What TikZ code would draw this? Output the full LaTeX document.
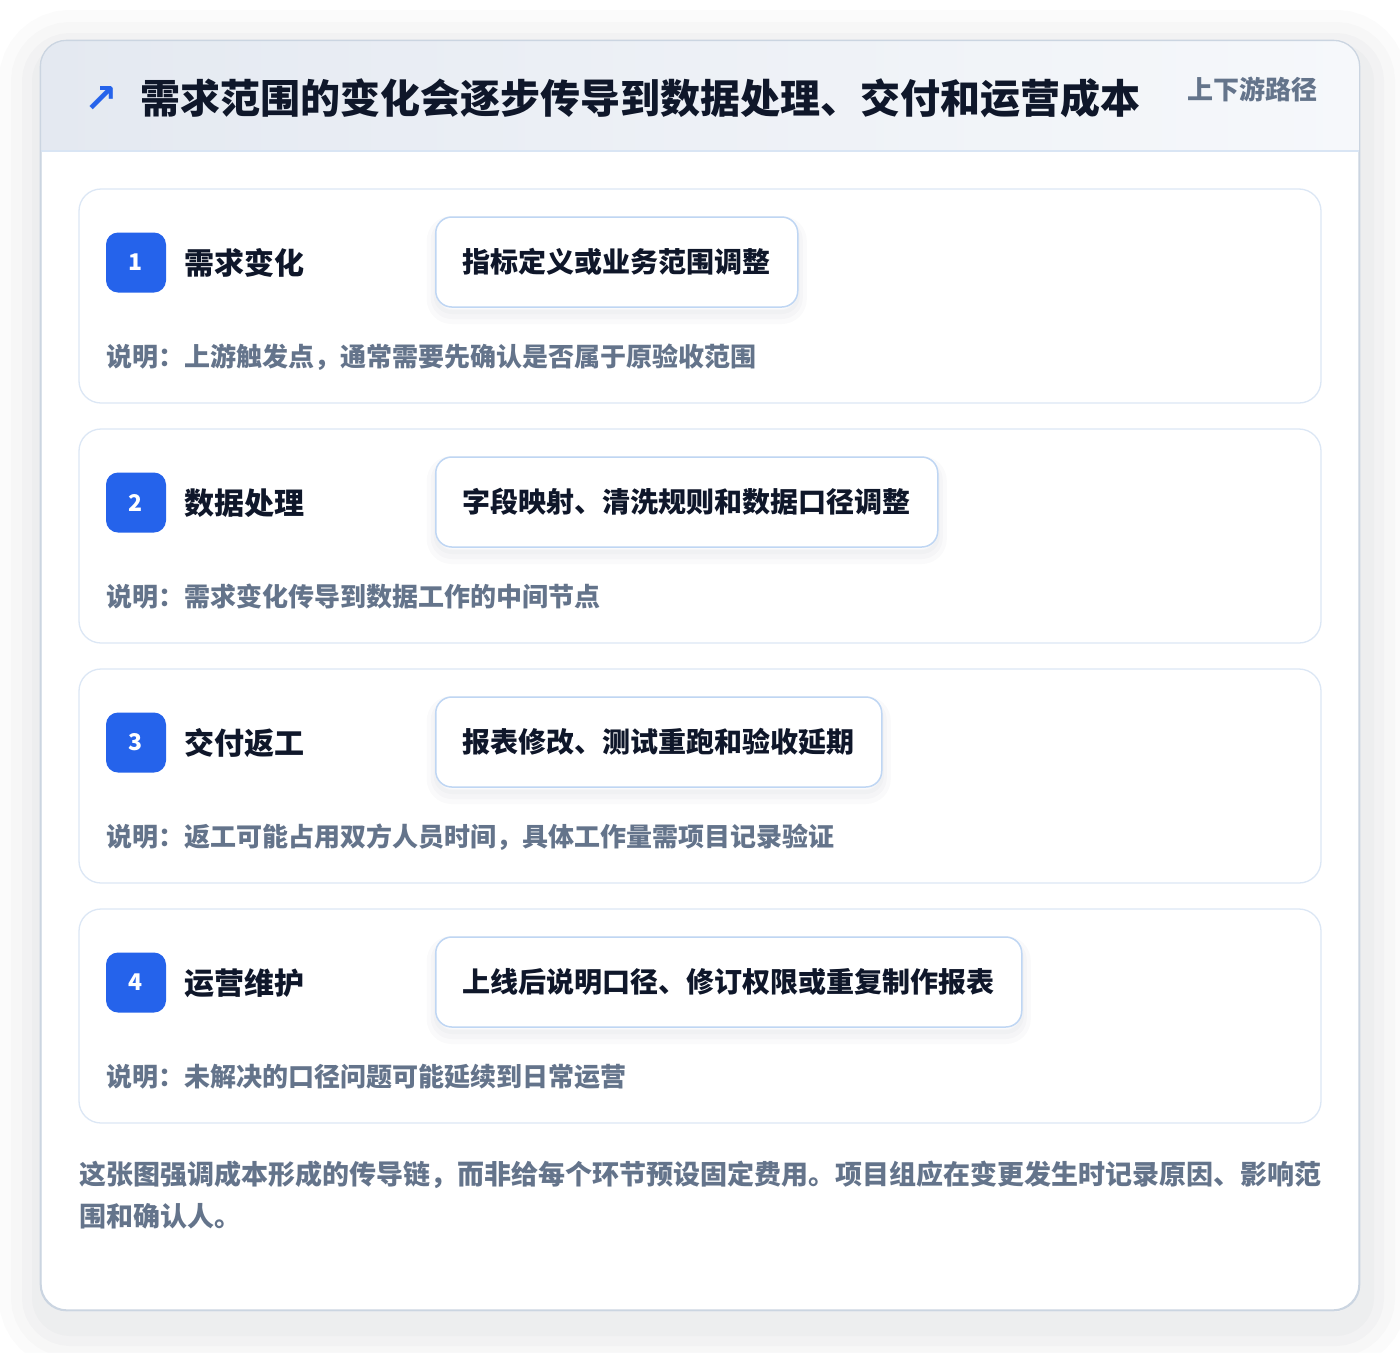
\documentclass[tikz,border=0pt]{standalone}
\usepackage{fontspec}
\setmainfont{Noto Sans CJK SC}
\newfontfamily\symfont{DejaVu Sans}
\definecolor{badgeBlue}{HTML}{2563EB}
\definecolor{titleInk}{HTML}{0F172A}
\definecolor{noteInk}{HTML}{64748B}
\definecolor{outerLine}{HTML}{CBD5E1}
\definecolor{cardLine}{HTML}{DCE7F5}
\definecolor{boxLine}{HTML}{BFD6F3}
\definecolor{headLeft}{HTML}{E4E9F1}
\definecolor{headRight}{HTML}{F6F8FB}
\definecolor{headLine}{HTML}{D9E5F4}
\definecolor{shadowInk}{HTML}{1E293B}
\tikzstyle{softShadow}=[preaction = {draw = shadowInk, draw opacity = 0.018, line width = 18pt, transform canvas = {yshift = -8pt}}, preaction = {draw = shadowInk, draw opacity = 0.018, line width = 10pt, transform canvas = {yshift = -7pt}}, preaction = {draw = shadowInk, draw opacity = 0.02, line width = 4pt, transform canvas = {yshift = -5pt}}]
\tikzstyle{cardShadow}=[preaction = {draw = shadowInk, draw opacity = 0.014, line width = 90pt, transform canvas = {xshift = 3pt, yshift = -14pt}}, preaction = {draw = shadowInk, draw opacity = 0.016, line width = 66pt, transform canvas = {xshift = 3pt, yshift = -14pt}}, preaction = {draw = shadowInk, draw opacity = 0.018, line width = 44pt, transform canvas = {xshift = 3pt, yshift = -14pt}}, preaction = {draw = shadowInk, draw opacity = 0.02, line width = 24pt, transform canvas = {xshift = 3pt, yshift = -14pt}}]
\tikzstyle{stepCard}=[draw = cardLine, fill = white, rounded corners = 22pt, line width = 1.3pt, minimum width = 1242pt, minimum height = 214pt, inner sep = 0pt]
\tikzstyle{stepBadge}=[fill = badgeBlue, rounded corners = 12pt, minimum size = 60pt, inner sep = 0pt, text = white, font = \fontsize{23}{23}\selectfont\bfseries]
\tikzstyle{stepTitle}=[anchor = west, inner sep = 0pt, text = titleInk, font = \fontsize{30}{30}\selectfont\bfseries]
\tikzstyle{stepBox}=[anchor = west, softShadow, draw = boxLine, fill = white, rounded corners = 16pt, line width = 1.5pt, minimum width = 362pt, minimum height = 90pt, inner xsep = 27pt, text = titleInk, font = \fontsize{28}{28}\selectfont\bfseries]
\tikzstyle{stepNote}=[anchor = west, inner sep = 0pt, text = noteInk, font = \fontsize{26}{26}\selectfont\bfseries]

\begin{document}
\begin{tikzpicture}[x = 1pt, y = -1pt]
\fill[white] (0,0) rectangle (1400,1352);
\useasboundingbox (0,0) rectangle (1400,1352);
%
\node[cardShadow, draw = outerLine, fill = white, line width = 1.3pt, rounded corners = 26pt, minimum width = 1318pt, minimum height = 1269pt] (card) at (700,675.5) {};
\begin{scope}
\clip[rounded corners = 26pt] (card.south west) rectangle (card.north east);
\shade[left color = headLeft, right color = headRight] (41,41) rectangle (1359,151);
\end{scope}
\draw[headLine, line width = 1.3pt] (card.west |- 0,151) -- (card.east |- 0,151);
\draw[outerLine, line width = 1.3pt, rounded corners = 26pt] (card.south west) rectangle (card.north east);
\node[text = badgeBlue, inner sep = 0pt, font = \symfont\bfseries\fontsize{40}{40}\selectfont] (icon) at (101,99) {↗};
\node[anchor = west, inner sep = 0pt, text = titleInk, font = \fontsize{40}{40}\selectfont\bfseries] (title) at (140,98) {需求范围的变化会逐步传导到数据处理、交付和运营成本};
\node[anchor = east, inner sep = 0pt, text = noteInk, font = \fontsize{26}{26}\selectfont\bfseries] (tag) at (1318,89) {上下游路径};
%
\node[stepCard] (card1) at (700,296) {};
\node[stepBadge] (badge1) at (136,262.5) {1};
\node[stepTitle] (name1) at (184,263) {需求变化};
\node[stepBox] (box1) at (435,262) {指标定义或业务范围调整};
\node[stepNote] (note1) at (106,357) {说明：上游触发点，通常需要先确认是否属于原验收范围};
%
\node[stepCard] (card2) at (700,536) {};
\node[stepBadge] (badge2) at (136,502.5) {2};
\node[stepTitle] (name2) at (184,503) {数据处理};
\node[stepBox] (box2) at (435,502) {字段映射、清洗规则和数据口径调整};
\node[stepNote] (note2) at (106,597) {说明：需求变化传导到数据工作的中间节点};
%
\node[stepCard] (card3) at (700,776) {};
\node[stepBadge] (badge3) at (136,742.5) {3};
\node[stepTitle] (name3) at (184,743) {交付返工};
\node[stepBox] (box3) at (435,742) {报表修改、测试重跑和验收延期};
\node[stepNote] (note3) at (106,837) {说明：返工可能占用双方人员时间，具体工作量需项目记录验证};
%
\node[stepCard] (card4) at (700,1016) {};
\node[stepBadge] (badge4) at (136,982.5) {4};
\node[stepTitle] (name4) at (184,983) {运营维护};
\node[stepBox] (box4) at (435,982) {上线后说明口径、修订权限或重复制作报表};
\node[stepNote] (note4) at (106,1077) {说明：未解决的口径问题可能延续到日常运营};
%
\node[anchor = north west, inner sep = 0pt, align = left, text = noteInk, font = \fontsize{27}{42}\selectfont\bfseries] (footer) at (79,1161) {这张图强调成本形成的传导链，而非给每个环节预设固定费用。项目组应在变更发生时记录原因、影响范\\围和确认人。};
\end{tikzpicture}
\end{document}
